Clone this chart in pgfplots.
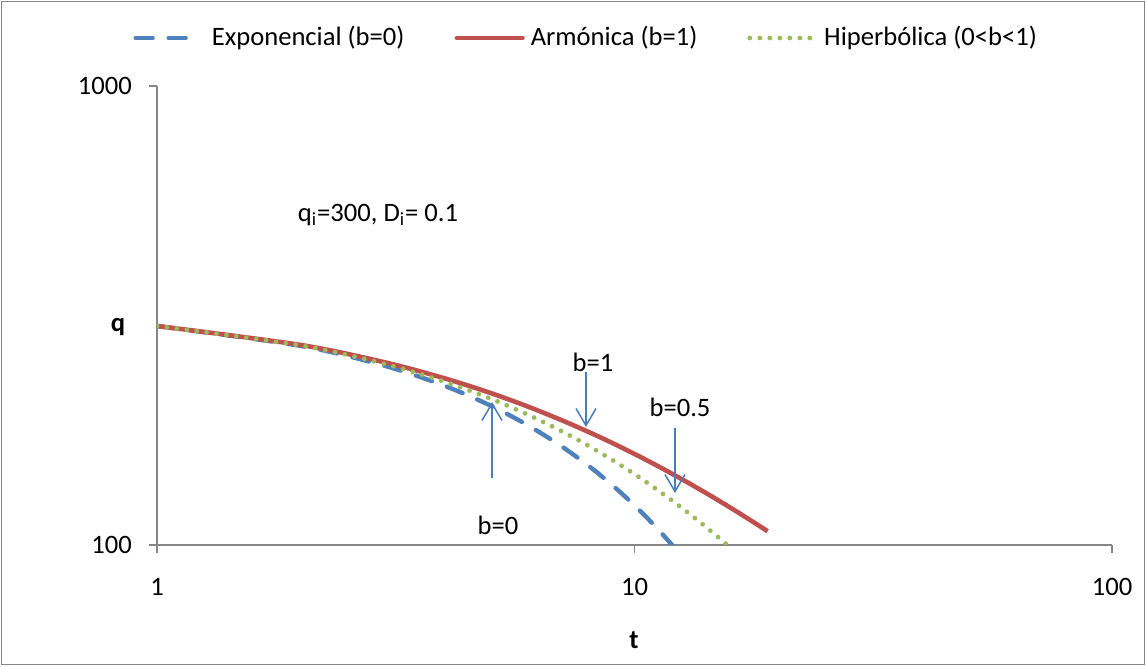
\documentclass[border=0pt]{standalone}
\usepackage{fontspec}
\setmainfont{Carlito}
\usepackage{pgfplots}
\pgfplotsset{compat=1.18}
\usetikzlibrary{arrows.meta}

\definecolor{expblue}{HTML}{4F81BD}
\definecolor{armred}{HTML}{C0504D}
\definecolor{hipgreen}{HTML}{9BBB59}
\definecolor{axgray}{RGB}{134,134,134}
\definecolor{arrowblue}{HTML}{4A7EBB}

% legend samples
\pgfplotsset{
  legexp/.style={legend image code/.code={\draw[##1] (1.1pt,0pt) -- (28.1pt,0pt);}},
  legarm/.style={legend image code/.code={\draw[##1, line cap=round] (1.1pt,0pt) -- (33.9pt,0pt);}},
  leghip/.style={legend image code/.code={\draw[##1] (1.25pt,0pt) -- (31.25pt,0pt);}},
}

\begin{document}
\fontsize{13.3}{16}\selectfont
\begin{tikzpicture}[font=\fontsize{13.3}{16}\selectfont]
  \useasboundingbox (0,0) rectangle (573pt,333pt);
  \draw[axgray, line width=0.75pt] (0.75pt,0.75pt) rectangle (572.25pt,332.25pt);
  \begin{axis}[
      at={(78.5pt,60.5pt)}, anchor=south west,
      scale only axis,
      width=477.5pt, height=229.5pt,
      xmode=log, ymode=log,
      xmin=1, xmax=100, ymin=100, ymax=1000,
      axis lines*=left,
      axis line style={axgray, line width=0.75pt},
      xtick={1,10,100}, xticklabels={1,10,100},
      ytick={100,1000}, yticklabels={100,1000},
      xminorticks=false, yminorticks=false,
      tick align=outside,
      major tick length=4pt,
      tick style={axgray, line width=0.75pt},
      xticklabel style={yshift=-8pt},
      yticklabel style={xshift=-4pt},
      legend columns=3,
      legend style={at={(axis description cs:-0.0251,1.1046)}, anchor=west,
        draw=none, fill=none, inner sep=0pt, nodes={inner sep=0pt},
        column sep=0pt,
        /tikz/column 1/.style={column sep=10pt},
        /tikz/column 2/.style={column sep=25pt},
        /tikz/column 3/.style={column sep=3pt},
        /tikz/column 4/.style={column sep=25pt},
        /tikz/column 5/.style={column sep=6pt}},
    ]
    % exponencial, b=0
    \addplot[expblue, line width=2.2pt, line cap=round, dash pattern=on 8.5pt off 8pt, smooth, legexp]
      coordinates {(1,300) (2,271.45) (3,245.62) (4,222.25) (5,201.10) (6,181.96)
        (7,164.64) (8,148.98) (9,134.80) (10,121.97) (11,110.36) (12,99.86) (13,90.36)};
    \addlegendentry{Exponencial (b=0)}
    % armonica, b=1
    \addplot[armred, line width=2.3pt, smooth, legarm]
      coordinates {(1,300) (2,272.73) (3,250) (4,230.77) (5,214.29) (6,200)
        (7,187.5) (8,176.47) (9,166.67) (10,157.89) (11,150) (12,142.86) (13,136.36)
        (14,130.43) (15,125) (16,120) (17,115.38) (18,111.11) (19,107.14)};
    \addlegendentry{Armónica (b=1)}
    % hiperbolica, b=0.5
    \addplot[hipgreen, line width=2.4pt, line cap=round, dash pattern=on 0pt off 5pt, smooth, leghip]
      coordinates {(1,300) (2,272.11) (3,247.93) (4,226.84) (5,208.33) (6,192)
        (7,177.51) (8,164.61) (9,153.06) (10,142.69) (11,133.33) (12,124.87)
        (13,117.19) (14,110.19) (15,103.81) (16,97.96) (17,92.59)};
    \addlegendentry{Hiperbólica (0<b<1)}
  \end{axis}
  % annotations
  \node[font=\fontsize{13.3}{16}\bfseries] at (59pt,169.5pt) {q};
  \node[font=\fontsize{13.3}{16}\bfseries] at (317pt,13pt) {t};
  \node at (189pt,225.5pt) {q\textsubscript{i}=300, D\textsubscript{i}= 0.1};
  \node at (296.5pt,152pt) {b=1};
  \node at (340pt,129.5pt) {b=0.5};
  \node at (249pt,70.5pt) {b=0};
  \begin{scope}[arrowblue, line width=0.75pt, -{Straight Barb[length=8.5pt,width=10pt]}]
    \draw (246pt,94pt) -- (246pt,132pt);
    \draw (293pt,147pt) -- (293pt,119.5pt);
    \draw (337.5pt,119pt) -- (337.5pt,86.5pt);
  \end{scope}
\end{tikzpicture}
\end{document}
